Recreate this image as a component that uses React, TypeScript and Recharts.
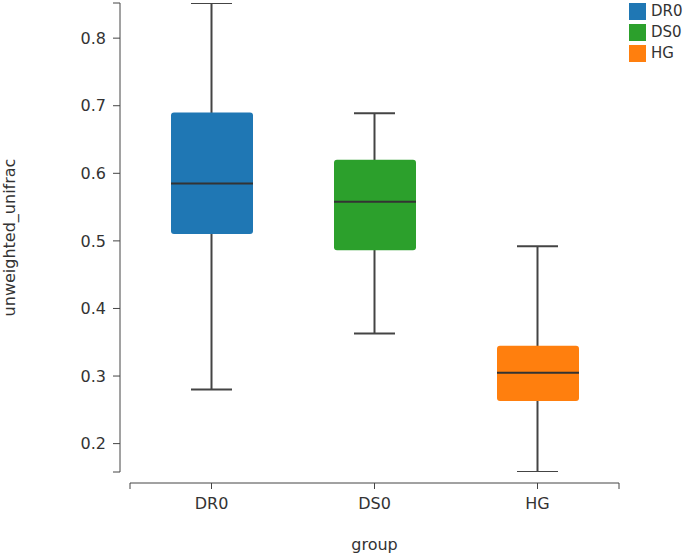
import React from 'react';
import { ComposedChart, Bar, XAxis, YAxis, Legend } from 'recharts';

const categories = ['DR0', 'DS0', 'HG'];
const whiskerLow = [0.28, 0.363, 0.158];
const quartile1 = [0.51, 0.486, 0.263];
const medians = [0.585, 0.558, 0.305];
const quartile3 = [0.69, 0.62, 0.345];
const whiskerHigh = [0.852, 0.689, 0.492];
const colors = ['#1f77b4', '#2ca02c', '#ff7f0e'];
const yTickLabels = [0.2, 0.3, 0.4, 0.5, 0.6, 0.7, 0.8];

const data = categories.map((g, i) => ({
  group: g,
  whisker: [whiskerLow[i], whiskerHigh[i]],
  lowerBox: [quartile1[i], medians[i]],
  upperBox: [medians[i], quartile3[i]],
  color: colors[i],
}));

const yMin = Math.min(...whiskerLow);
const yMax = Math.max(...whiskerHigh);
const yTicks = [yMin, ...yTickLabels, yMax];

const FONT = '"DejaVu Sans", Verdana, sans-serif';
const AXIS = '#444';
const TEXT = '#333';
const X_PAD_LEFT = 10;
const Y_PAD_BOTTOM = 11;
const X_TICK = 6;
const X_MARGIN = 9;

function boxPath(x: number, y: number, w: number, h: number, rt: number, rb: number) {
  return `M${x},${y + rt} Q${x},${y} ${x + rt},${y} L${x + w - rt},${y} Q${x + w},${y} ${x + w},${y + rt} L${x + w},${y + h - rb} Q${x + w},${y + h} ${x + w - rb},${y + h} L${x + rb},${y + h} Q${x},${y + h} ${x},${y + h - rb} Z`;
}

const norm = (p: any) => {
  const top = Math.min(p.y, p.y + p.height);
  const h = Math.abs(p.height);
  return { x: p.x, w: p.width, top, h };
};

const WhiskerShape = (p: any) => {
  const { x, w, top, h } = norm(p);
  const cx = x + w / 2;
  return (
    <g stroke={AXIS} strokeWidth={2}>
      <line x1={cx} y1={top} x2={cx} y2={top + h} />
      <line x1={x} y1={top} x2={x + w} y2={top} />
      <line x1={x} y1={top + h} x2={x + w} y2={top + h} />
    </g>
  );
};

const LowerBoxShape = (p: any) => {
  const { x, w, top, h } = norm(p);
  return <path d={boxPath(x, top, w, h, 0, 3)} fill={p.payload.color} />;
};

const UpperBoxShape = (p: any) => {
  const { x, w, top, h } = norm(p);
  return (
    <g>
      <path d={boxPath(x, top, w, h, 3, 0)} fill={p.payload.color} />
      <line x1={x} y1={top + h} x2={x + w} y2={top + h} stroke={TEXT} strokeWidth={2} />
    </g>
  );
};

const XTick = (p: any) => {
  const { x, y, payload, index, visibleTicksCount } = p;
  const axisY = y - X_TICK - X_MARGIN;
  const off = payload && typeof payload.offset === 'number' ? payload.offset : 0;
  return (
    <g>
      {index === 0 && off > 0 ? (
        <line x1={x - off} y1={axisY} x2={x - off} y2={axisY + X_TICK} stroke={AXIS} />
      ) : null}
      {index === visibleTicksCount - 1 && off > 0 ? (
        <line x1={x + off} y1={axisY} x2={x + off} y2={axisY + X_TICK} stroke={AXIS} />
      ) : null}
      <text x={x} y={y} dy="0.71em" textAnchor="middle" fill={TEXT} fontSize={16} fontFamily={FONT}>
        {payload.value}
      </text>
    </g>
  );
};

const YTick = (p: any) => {
  const { x, y, payload } = p;
  const v = payload.value;
  const show = yTickLabels.some((t) => Math.abs(t - v) < 1e-9);
  if (!show) return <g />;
  return (
    <text x={x} y={y} dy="0.355em" textAnchor="end" fill={TEXT} fontSize={16} fontFamily={FONT}>
      {v.toFixed(1)}
    </text>
  );
};

const YTitle = (p: any) => {
  const vb = p.viewBox || {};
  const cy = vb.y + (vb.height - Y_PAD_BOTTOM) / 2;
  const cx = 15;
  return (
    <text x={cx} y={cy} transform={`rotate(-90 ${cx} ${cy})`} textAnchor="middle" fill={TEXT} fontSize={16} fontFamily={FONT}>
      unweighted_unifrac
    </text>
  );
};

const XTitle = (p: any) => {
  const vb = p.viewBox || {};
  const cx = vb.x + X_PAD_LEFT + (vb.width - X_PAD_LEFT) / 2;
  const y = vb.y + 66.5;
  return (
    <text x={cx} y={y} textAnchor="middle" fill={TEXT} fontSize={16} fontFamily={FONT}>
      group
    </text>
  );
};

const LegendContent = () => (
  <div style={{ fontFamily: FONT, fontSize: 15, color: TEXT }}>
    {categories.map((c, i) => (
      <div key={c} style={{ display: 'flex', alignItems: 'center', height: 21, lineHeight: '21px' }}>
        <div style={{ width: 17, height: 17, background: colors[i], marginRight: 5 }} />
        <span>{c}</span>
      </div>
    ))}
  </div>
);

export default function App() {
  return (
    <div style={{ position: 'absolute', left: 0, top: 0, width: 685, height: 555, background: '#fff' }}>
      <ComposedChart width={685} height={555} data={data} margin={{ top: 3, right: 66, bottom: 0, left: 0 }}>
        <XAxis
          xAxisId="main"
          dataKey="group"
          type="category"
          height={72}
          padding={{ left: X_PAD_LEFT, right: 0 }}
          axisLine={{ stroke: AXIS, strokeDasharray: `0 ${X_PAD_LEFT} 1000 1000` }}
          tickLine={{ stroke: AXIS }}
          tickSize={X_TICK}
          tickMargin={X_MARGIN}
          tick={<XTick />}
          interval={0}
          label={{ content: <XTitle /> }}
        />
        <XAxis xAxisId="w" dataKey="group" type="category" hide padding={{ left: X_PAD_LEFT, right: 0 }} />
        <XAxis xAxisId="u" dataKey="group" type="category" hide padding={{ left: X_PAD_LEFT, right: 0 }} />
        <YAxis
          type="number"
          width={120}
          domain={[yMin, yMax]}
          allowDataOverflow
          ticks={yTicks}
          interval={0}
          padding={{ top: 0, bottom: Y_PAD_BOTTOM }}
          axisLine={{ stroke: AXIS, strokeDasharray: '469 1000' }}
          tickLine={{ stroke: AXIS }}
          tickSize={7}
          tickMargin={7}
          tick={<YTick />}
          label={{ content: <YTitle /> }}
        />
        <Legend
          layout="horizontal"
          align="center"
          verticalAlign="middle"
          content={<LegendContent />}
          wrapperStyle={{ position: 'absolute', top: 1, left: 629, width: 56, height: 64 }}
        />
        <Bar xAxisId="w" dataKey="whisker" barSize={41} shape={<WhiskerShape />} isAnimationActive={false} />
        <Bar xAxisId="main" dataKey="lowerBox" barSize={82} shape={<LowerBoxShape />} isAnimationActive={false} />
        <Bar xAxisId="u" dataKey="upperBox" barSize={82} shape={<UpperBoxShape />} isAnimationActive={false} />
      </ComposedChart>
    </div>
  );
}
